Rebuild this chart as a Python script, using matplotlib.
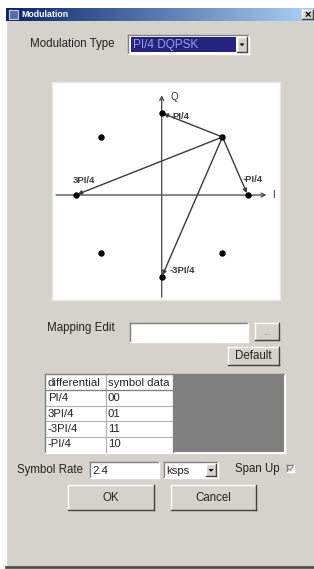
import numpy as np
import matplotlib
matplotlib.use("Agg")
import matplotlib.pyplot as plt
from matplotlib.patches import Rectangle, Polygon

plt.rcParams["font.family"] = ["Liberation Sans", "DejaVu Sans"]

## Data ##
title = "Modulation"
modulation_type = "PI/4 DQPSK"
# constellation points, every 45 degrees on the unit circle
point_angles_deg = [0, 45, 90, 135, 180, 225, 270, 315]
start_angle_deg = 45
# phase jumps drawn from the start point
target_angles_deg = [90, 180, 270, 0]
phase_labels = ["PI/4", "3PI/4", "-3PI/4", "-PI/4"]
table_header = ["differential", "symbol data"]
table_differential = ["PI/4", "3PI/4", "-3PI/4", "-PI/4"]
table_symbols = ["00", "01", "11", "10"]
symbol_rate = "2.4"
rate_unit = "ksps"

FACE = "#d5d2cb"
W, H = 314, 569

fig = plt.figure(figsize=(W / 100, H / 100), dpi=100, facecolor="white")
ui = fig.add_axes([0, 0, 1, 1])
ui.set_xlim(0, W)
ui.set_ylim(H, 0)
ui.axis("off")


def bevel(x0, y0, x1, y1, raised=True, face=FACE, z=2):
    ui.add_patch(Rectangle((x0, y0), x1 - x0, y1 - y0, fc=face, ec="none", zorder=z))
    hi, lo = ("white", "#404040") if raised else ("#808080", "white")
    ui.plot([x0, x1], [y0, y0], color=hi, lw=1, zorder=z + 1)
    ui.plot([x0, x0], [y0, y1], color=hi, lw=1, zorder=z + 1)
    ui.plot([x0, x1], [y1, y1], color=lo, lw=1, zorder=z + 1)
    ui.plot([x1, x1], [y0, y1], color=lo, lw=1, zorder=z + 1)


def arrow_button(x0, y0, x1, y1):
    bevel(x0, y0, x1, y1, raised=True, z=4)
    cx, cy = (x0 + x1) / 2, (y0 + y1) / 2
    ui.add_patch(Polygon([[cx - 2.5, cy - 1], [cx + 2.5, cy - 1], [cx, cy + 1.8]],
                         fc="black", ec="none", zorder=6))


def label(x, y, s, size=8.3, **kw):
    kw.setdefault("color", "#222222")
    ui.text(x, y, s, fontsize=size, va="center", zorder=8, **kw)


# window body
ui.add_patch(Rectangle((6, 8), W - 6, 559, fc=FACE, ec="none", zorder=1))
ui.plot([6, 6], [8, 566], color="white", lw=1, zorder=2)
ui.plot([6, W], [566.5, 566.5], color="#505050", lw=2, zorder=2)

# title bar
grad = np.linspace(0, 1, 256)[None, :]
cmap = matplotlib.colors.LinearSegmentedColormap.from_list("tb", ["#0a246a", "#a6caf0"])
ui.imshow(grad, cmap=cmap, extent=(6, 300, 21, 8), aspect="auto", zorder=2)
ui.add_patch(Rectangle((300, 8), 14, 13, fc="#a6caf0", ec="none", zorder=2))
ui.add_patch(Rectangle((9, 10), 9, 9, fc="#5a6e9c", ec="#c8c8e0", lw=0.8, zorder=3))
ui.text(21, 14.5, title, fontsize=6.3, fontweight="bold", color="white", va="center", zorder=4)
bevel(302, 10, 313, 19, raised=True, face="#d4d0c8", z=3)
ui.text(307.5, 14.5, "\u00d7", fontsize=8, fontweight="bold", ha="center", va="center",
        color="black", zorder=6)
ui.set_xlim(0, W)
ui.set_ylim(H, 0)

# modulation type combo
label(30, 44, "Modulation Type")
bevel(128, 35, 249, 54, raised=False, face="white")
ui.add_patch(Rectangle((131, 37), 105, 15, fc="#24247e", ec="none", zorder=4))
label(133, 44.5, modulation_type, size=8.5, color="#9a9ee6")
arrow_button(237, 37, 247, 52)

# constellation area
ui.add_patch(Rectangle((52, 82), 228, 218, fc="white", ec="#e8e8e8", lw=1, zorder=2))
ax = fig.add_axes([52 / W, 1 - 300 / H, 228 / W, 218 / H])
ax.patch.set_alpha(0)
ax.axis("off")
ax.set_xlim(-1.276, 1.376)
ax.set_ylim(-1.28, 1.378)

ax.annotate("", xy=(1.25, 0), xytext=(-1.26, 0),
            arrowprops=dict(arrowstyle="->", lw=0.9, color="#444444", mutation_scale=7))
ax.annotate("", xy=(0, 1.25), xytext=(0, -1.28),
            arrowprops=dict(arrowstyle="->", lw=0.9, color="#444444", mutation_scale=7))
ax.text(1.28, 0, "I", fontsize=7, va="center", ha="left", color="#333333")
ax.text(0.1, 1.2, "Q", fontsize=7, va="center", ha="left", color="#333333")

ang = np.deg2rad(point_angles_deg)
ax.plot(np.cos(ang), np.sin(ang), "o", ms=3.6, color="black", zorder=5)

sa = np.deg2rad(start_angle_deg)
label_offsets = [(11, -3), (-3, 15), (8, 7), (-5, 16)]
for t, lab, off in zip(target_angles_deg, phase_labels, label_offsets):
    tr = np.deg2rad(t)
    tx, ty = np.cos(tr), np.sin(tr)
    ax.annotate("", xy=(tx, ty), xytext=(np.cos(sa), np.sin(sa)),
                arrowprops=dict(arrowstyle="-|>", lw=1.0, color="#3a3a3a",
                                mutation_scale=6, shrinkA=0, shrinkB=1.5))
    ax.annotate(lab, xy=(tx, ty), xytext=off, textcoords="offset pixels",
                fontsize=6.8, fontweight="bold", color="#3a3a3a", ha="left", va="center")

# mapping edit
label(47, 328, "Mapping Edit")
bevel(130, 323, 248, 342, raised=False, face="white")
bevel(255, 323, 279, 340, raised=True)
ui.text(267, 332, "...", fontsize=7, ha="center", va="center", color="#888888", zorder=8)
bevel(228, 347, 279, 365, raised=True)
ui.text(253.5, 356, "Default", fontsize=8.3, ha="center", va="center", color="#222222", zorder=8)

# table
tx0, tx1, tx2, tx3 = 46, 106, 173, 284
ty0, ty1 = 375, 452
bevel(tx0 - 1, ty0 - 1, tx3 + 1, ty1 + 1, raised=False, face="white")
ui.add_patch(Rectangle((tx2, ty0), tx3 - tx2, ty1 - ty0, fc="#808080", ec="none", zorder=4))
rows = [table_header] + [list(r) for r in zip(table_differential, table_symbols)]
rh = (ty1 - ty0) / len(rows)
for i, (a, b) in enumerate(rows):
    yc = ty0 + rh * (i + 0.5)
    if i > 0:
        ui.plot([tx0, tx2], [ty0 + rh * i] * 2, color="#b0b0b0", lw=0.8, zorder=5)
    label(tx0 + 2, yc, a, size=8.2)
    label(tx1 + 2, yc, b, size=8.2)
ui.plot([tx1, tx1], [ty0, ty1], color="#b0b0b0", lw=0.8, zorder=5)
ui.plot([tx0, tx2], [ty0 + rh, ty0 + rh], color="#808080", lw=0.9, zorder=5)
ui.plot([tx2, tx2], [ty0, ty1], color="#808080", lw=0.9, zorder=5)

# symbol rate row
label(17, 470, "Symbol Rate")
bevel(90, 462, 159, 478, raised=False, face="white")
label(92, 470.5, symbol_rate, size=8.2)
bevel(164, 462, 218, 478, raised=False, face="white")
label(166, 470.5, rate_unit, size=8.2)
arrow_button(206, 464, 216, 476)
label(235, 469, "Span Up")
bevel(287, 465, 294, 472, raised=False, face="#ececec")
ui.plot([288.5, 290.2, 292.8], [468.5, 470.5, 466.5], color="#909090", lw=0.8, zorder=8)

# OK / Cancel
bevel(68, 485, 154, 510, raised=True)
ui.text(111, 497.5, "OK", fontsize=8.3, ha="center", va="center", color="#222222", zorder=8)
bevel(171, 485, 256, 510, raised=True)
ui.text(213.5, 497.5, "Cancel", fontsize=8.3, ha="center", va="center", color="#222222", zorder=8)

fig.savefig("out.png", dpi=100, facecolor="white")
